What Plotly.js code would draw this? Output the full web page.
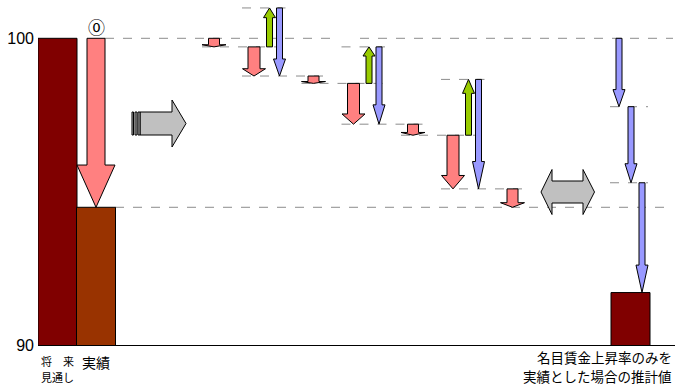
<!DOCTYPE html>
<html><head><meta charset="utf-8">
<script src="https://cdn.plot.ly/plotly-3.0.1.min.js"></script>
<style>html,body{margin:0;padding:0;background:#fff}#chart{width:677px;height:385px}</style>
</head><body><div id="chart"></div>
<script>
// ---------- data ----------
const categories = ['将　来<br>見通し', '実績', '名目賃金上昇率のみを<br>実績とした場合の推計値'];
const barValues = [100, 94.49, 91.71];
const startLevel = 100;
const smallPinkEnds = [99.72, 98.53, 96.84, 94.49];
const pinkEnds = [98.77, 97.20, 95.09];
const greenTops = [100.99, 99.72, 98.66];
const rightBlueLevels = [100, 97.77, 95.29, 91.71];
const yTickVals = [90, 100];
const yTickText = ['90', '100'];
const markerLabel = '⓪';

// ---------- layout config ----------
const W = 677, H = 385, M = {l: 38, r: 2, t: 0, b: 40};
const PXU = 30.67;
const plotH = H - M.t - M.b;
const yTop = 90 + plotH / PXU;
const px2y = py => 90 + (plotH - py) / PXU;
const px2paper = py => 1 - py / plotH;
const barX = [57.5, 96, 630.5], barW = 39;
const barColors = ['#800000', '#993300', '#800000'];
const groupX0 = 214, groupStep = 99.5;
const off = {pink: 40, green: 55.5, blue: 65.5};
const C = {pink: '#FF8080', green: '#99CC00', blue: '#9999FF', gray: '#C0C0C0'};
const guideColor = '#8c8c8c';

const shapes = [];
function line(x0, x1, y) {
  shapes.push({type: 'line', xref: 'x', yref: 'y', x0, x1, y0: y, y1: y, layer: 'below',
    line: {color: guideColor, width: 1, dash: 'dash'}});
}
function arrow(xc, y0, y1, sw, hw, fill) {
  const neck = y1 + (y0 - y1) * 0.25;
  const a = xc - sw / 2, b = xc + sw / 2, c = xc - hw / 2, d = xc + hw / 2;
  const p = `M${a},${y0} L${a},${neck} L${c},${neck} L${xc},${y1} L${d},${neck} L${b},${neck} L${b},${y0} Z`;
  shapes.push({type: 'path', xref: 'x', yref: 'y', path: p, fillcolor: fill, line: {color: '#000', width: 1}});
}
function poly(pts, fill) {
  const p = 'M' + pts.map(q => q[0] + ',' + px2y(q[1])).join(' L') + ' Z';
  shapes.push({type: 'path', xref: 'x', yref: 'y', path: p, fillcolor: fill, line: {color: '#000', width: 1}});
}

// long reference lines
line(105, 337, startLevel); line(360, 673, startLevel);
line(115, 673, barValues[1]);

// step guide lines
for (let k = 0; k < pinkEnds.length; k++) {
  const s = groupX0 + groupStep * k;
  line(s - 12, s + 71.5, smallPinkEnds[k]);
  line(s + 28, s + 71.5, greenTops[k]);
  line(s + 28, s + groupStep + 12, pinkEnds[k]);
}
for (let i = 1; i < rightBlueLevels.length - 1; i++) line(610, 648, rightBlueLevels[i]);

// ⓪ arrow
arrow(barX[1], startLevel, barValues[1], 18, 38, C.pink);

// group arrows
let level = startLevel;
for (let k = 0; k < smallPinkEnds.length; k++) {
  const s = groupX0 + groupStep * k;
  arrow(s, level, smallPinkEnds[k], 11, 24, C.pink);
  level = smallPinkEnds[k];
  if (k < pinkEnds.length) {
    arrow(s + off.pink, level, pinkEnds[k], 12, 23, C.pink);
    arrow(s + off.green, level, greenTops[k], 6, 12, C.green);
    arrow(s + off.blue, greenTops[k], pinkEnds[k], 6, 12, C.blue);
    level = pinkEnds[k];
  }
}
// right blue arrows
const rbx = [barX[2] - 11.5, barX[2] + 0.5, barX[2] + 11.5];
for (let i = 0; i < rightBlueLevels.length - 1; i++)
  arrow(rbx[i], rightBlueLevels[i], rightBlueLevels[i + 1], 6, 12, C.blue);

// decorative gray arrows
poly([[140, 112], [172, 112], [172, 100], [186, 123.5], [172, 147], [172, 135], [140, 135]], C.gray);
poly([[132, 112], [133.5, 112], [133.5, 135], [132, 135]], C.gray);
poly([[135, 112], [137, 112], [137, 135], [135, 135]], C.gray);
poly([[138, 112], [140, 112], [140, 135], [138, 135]], C.gray);
poly([[541, 192], [552, 169.5], [552, 181], [583, 181], [583, 169.5], [594.5, 192], [583, 214.5], [583, 203], [552, 203], [552, 214.5]], C.gray);

// labels: each line placed separately
const labelCfg = [
  {x: barX[0], py: [361, 377], size: 11, xanchor: 'center'},
  {x: barX[1], py: [362], size: 14, xanchor: 'center'},
  {x: 674, py: [356.5, 376], size: 13.5, xanchor: 'right'}
];
const annotations = [];
categories.forEach((c, i) => {
  c.split('<br>').forEach((t, j) => {
    annotations.push({
      text: t, xref: 'x', yref: 'paper', x: labelCfg[i].x, y: px2paper(labelCfg[i].py[j]),
      xanchor: labelCfg[i].xanchor, yanchor: 'middle', showarrow: false,
      font: {family: 'Noto Sans CJK JP', size: labelCfg[i].size, color: '#000'}
    });
  });
});
annotations.push({text: markerLabel, xref: 'x', yref: 'y', x: barX[1], y: px2y(28), showarrow: false,
  xanchor: 'center', yanchor: 'middle', font: {family: 'DejaVu Sans, Noto Sans CJK JP', size: 17, color: '#000'}});

const trace = {type: 'bar', x: barX, y: barValues, width: barW, hoverinfo: 'none',
  marker: {color: barColors, line: {color: '#000', width: 1}}};

const layout = {
  width: W, height: H, margin: M, showlegend: false,
  paper_bgcolor: '#fff', plot_bgcolor: '#fff',
  xaxis: {range: [38, 675], showgrid: false, zeroline: false, showticklabels: false, ticks: '',
    showline: true, linecolor: '#000', linewidth: 1, fixedrange: true},
  yaxis: {range: [90, yTop], showgrid: false, zeroline: false, showline: false,
    tickvals: yTickVals, ticktext: yTickText, ticks: '', ticklabelstandoff: 3,
    tickfont: {family: 'Liberation Sans, Arial', size: 16, color: '#000'}, fixedrange: true},
  shapes, annotations
};
Plotly.newPlot('chart', [trace], layout, {displayModeBar: false, staticPlot: true});
</script></body></html>
